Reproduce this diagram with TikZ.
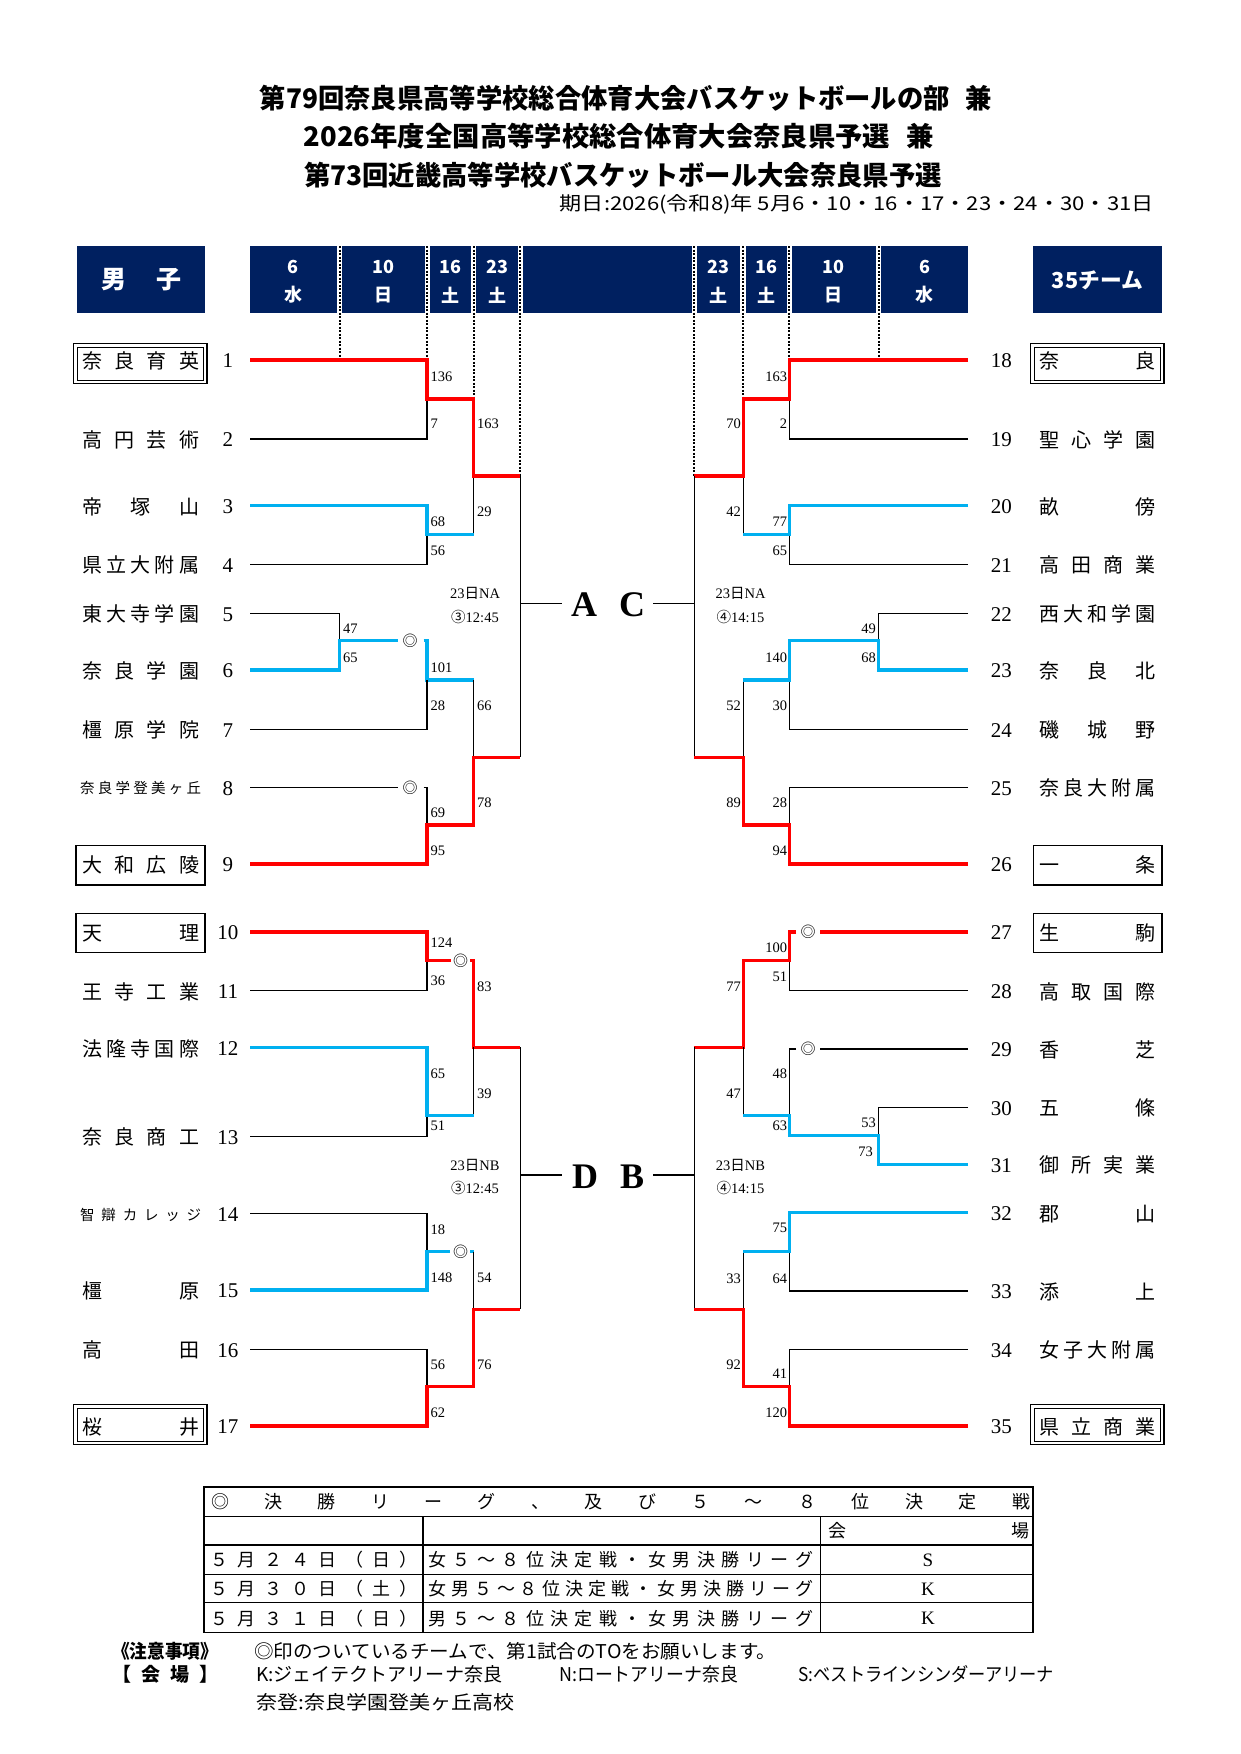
\documentclass[tikz,border=0pt]{standalone}
\usepackage{fontspec}
\newfontfamily\jp{Noto Sans CJK JP}
\newfontfamily\sr{Liberation Serif}
\definecolor{navy}{HTML}{002060}
\definecolor{redc}{HTML}{FF0000}
\definecolor{bluec}{HTML}{00B0F0}
\ExplSyntaxOn
\NewDocumentCommand\spread{mm}{
  \makebox[#1]{
    \tl_set:Nn \l_tmpa_tl {#2}
    \tl_head:N \l_tmpa_tl
    \tl_set:Nx \l_tmpb_tl {\tl_tail:N \l_tmpa_tl}
    \tl_map_inline:Nn \l_tmpb_tl {\hfill ##1}
  }
}
\ExplSyntaxOff
\newcommand\fitw[2]{\resizebox{#1}{\height}{#2}}
\tikzset{
  nm/.style={inner sep=0pt, font=\jp\fontsize{20}{20}\selectfont},
  nms/.style={inner sep=0pt, font=\jp\fontsize{14.5}{14.5}\selectfont},
  num/.style={inner sep=0pt, font=\sr\fontsize{21}{21}\selectfont},
  scl/.style={inner sep=0pt, anchor=west, font=\sr\fontsize{14.5}{14.5}\selectfont},
  scr/.style={inner sep=0pt, anchor=east, font=\sr\fontsize{14.5}{14.5}\selectfont},
  hdt/.style={inner sep=0pt, text=white, font=\jp\bfseries\fontsize{18}{18}\selectfont},
  rd/.style={draw=redc, line width=3.3pt, line join=miter},
  bl/.style={draw=bluec, line width=3.3pt, line join=miter},
  bk/.style={draw=black, line width=1.3pt, line join=miter},
  dotln/.style={draw=black, line width=2pt, dash pattern=on 2pt off 1.5pt},
  dc/.style={inner sep=0pt, font=\jp\fontsize{15}{15}\selectfont},
  info/.style={inner sep=0pt, font=\fontsize{14.5}{14.5}\selectfont, align=center},
  big/.style={inner sep=0pt, font=\sr\bfseries\fontsize{36}{36}\selectfont},
  boxo/.style={draw=black, line width=1.4pt},
  boxi/.style={draw=black, line width=1.0pt},
  tb/.style={draw=black, line width=1.5pt},
  tt/.style={inner sep=0pt, font=\jp\fontsize{18}{18}\selectfont},
}
\newcommand\lteam[3]{%
  \node[nm] (ln#2) at (140.7,#1+1) {\spread{117pt}{#3}};
  \node[num] (lk#2) at (227.9,#1+1) {#2};}
\newcommand\lteams[3]{%
  \node[nms] (ln#2) at (140.7,#1+1) {\spread{121pt}{#3}};
  \node[num] (lk#2) at (227.9,#1+1) {#2};}
\newcommand\rteam[3]{%
  \node[nm] (rn#2) at (1097.6,#1+1) {\spread{116pt}{#3}};
  \node[num] (rk#2) at (1001.4,#1+1) {#2};}
\begin{document}
\begin{tikzpicture}[x=1pt,y=-1pt]
\useasboundingbox (0,0) rectangle (1241,1754);
\fill[white] (0,0) rectangle (1241,1754);
% ---------- title ----------
\node[inner sep=0pt, font=\jp\bfseries\fontsize{27}{27}\selectfont] (t1) at (626,98.5) {\fitw{732pt}{第79回奈良県高等学校総合体育大会バスケットボールの部\hspace{0.6em}兼}};
\node[inner sep=0pt, font=\jp\bfseries\fontsize{27}{27}\selectfont] (t2) at (619,136.5) {\fitw{630pt}{2026年度全国高等学校総合体育大会奈良県予選\hspace{0.6em}兼}};
\node[inner sep=0pt, font=\jp\bfseries\fontsize{27}{27}\selectfont] (t3) at (623,175.7) {\fitw{638pt}{第73回近畿高等学校バスケットボール大会奈良県予選}};
\node[inner sep=0pt, anchor=east, font=\jp\fontsize{19}{19}\selectfont] (t4) at (1154,204.8) {\fitw{594pt}{期日:2026(令和8)年 5月6・10・16・17・23・24・30・31日}};
% ---------- header ----------
\fill[navy] (77.1,246) rectangle (205.4,313.3);
\fill[navy] (1032.5,246) rectangle (1162.1,313.3);
\fill[navy] (250,246) rectangle (337,313.3);
\fill[navy] (342.2,246) rectangle (424.5,313.3);
\fill[navy] (429.7,246) rectangle (471,313.3);
\fill[navy] (476.2,246) rectangle (517.7,313.3);
\fill[navy] (523,246) rectangle (691.6,313.3);
\fill[navy] (697,246) rectangle (740.4,313.3);
\fill[navy] (746,246) rectangle (786.6,313.3);
\fill[navy] (791.8,246) rectangle (875.9,313.3);
\fill[navy] (881.2,246) rectangle (968.2,313.3);
\node[hdt, font=\jp\bfseries\fontsize{25}{25}\selectfont] (hm) at (141.3,280) {\spread{80pt}{男子}};
\node[hdt, font=\jp\bfseries\fontsize{22}{22}\selectfont] (hr) at (1097.3,280) {\fitw{91pt}{35チーム}};
\node[hdt] (h1a) at (293.4,266.7) {6};   \node[hdt] (h1b) at (293.4,295) {水};
\node[hdt] (h2a) at (383.3,266.7) {10};  \node[hdt] (h2b) at (383.3,295) {日};
\node[hdt] (h3a) at (450.4,266.7) {16};  \node[hdt] (h3b) at (450.4,295) {土};
\node[hdt] (h4a) at (497,266.7) {23};    \node[hdt] (h4b) at (497,295) {土};
\node[hdt] (h5a) at (718.7,266.7) {23};  \node[hdt] (h5b) at (718.7,295) {土};
\node[hdt] (h6a) at (766.3,266.7) {16};  \node[hdt] (h6b) at (766.3,295) {土};
\node[hdt] (h7a) at (833.8,266.7) {10};  \node[hdt] (h7b) at (833.8,295) {日};
\node[hdt] (h8a) at (924.7,266.7) {6};   \node[hdt] (h8b) at (924.7,295) {水};
% dotted guide lines
\draw[dotln] (339.6,246) -- (339.6,360);
\draw[dotln] (427.1,246) -- (427.1,360);
\draw[dotln] (473.6,246) -- (473.6,399);
\draw[dotln] (520.4,246) -- (520.4,476);
\draw[dotln] (878.6,246) -- (878.6,360);
\draw[dotln] (789.3,246) -- (789.3,360);
\draw[dotln] (743.2,246) -- (743.2,399);
\draw[dotln] (694.3,246) -- (694.3,476);
% ---------- left teams ----------
\lteam{360}{1}{奈良育英}
\lteam{439}{2}{高円芸術}
\lteam{505.7}{3}{帝塚山}
\lteam{564.3}{4}{県立大附属}
\lteam{613.3}{5}{東大寺学園}
\lteam{670}{6}{奈良学園}
\lteam{729.3}{7}{橿原学院}
\lteams{787.3}{8}{奈良学登美ヶ丘}
\lteam{864}{9}{大和広陵}
\lteam{932}{10}{天理}
\lteam{990.7}{11}{王寺工業}
\lteam{1047.7}{12}{法隆寺国際}
\lteam{1136.3}{13}{奈良商工}
\lteams{1213.7}{14}{智辯カレッジ}
\lteam{1290}{15}{橿原}
\lteam{1349.3}{16}{高田}
\lteam{1426}{17}{桜井}
% boxes left
\draw[boxo] (73.6,343.5) rectangle (207.1,383.5);
\draw[boxi] (77.3,347) rectangle (203.4,380);
\draw[boxo] (76.1,845.5) rectangle (205,885);
\draw[boxo] (76.1,913.3) rectangle (205,952.7);
\draw[boxo] (73.6,1404.5) rectangle (207.1,1444.5);
\draw[boxi] (77.3,1408) rectangle (203.4,1441);
% ---------- right teams ----------
\rteam{360}{18}{奈良}
\rteam{439}{19}{聖心学園}
\rteam{505.7}{20}{畝傍}
\rteam{564.3}{21}{高田商業}
\rteam{613.3}{22}{西大和学園}
\rteam{670}{23}{奈良北}
\rteam{729.3}{24}{磯城野}
\rteam{787.3}{25}{奈良大附属}
\rteam{864}{26}{一条}
\rteam{932}{27}{生駒}
\rteam{990.7}{28}{高取国際}
\rteam{1049}{29}{香芝}
\rteam{1107.3}{30}{五條}
\rteam{1164.3}{31}{御所実業}
\rteam{1212.7}{32}{郡山}
\rteam{1291}{33}{添上}
\rteam{1349.3}{34}{女子大附属}
\rteam{1426}{35}{県立商業}
\draw[boxo] (1030.7,343.5) rectangle (1163.9,383.5);
\draw[boxi] (1034.2,347) rectangle (1160.4,380);
\draw[boxo] (1033.2,845.5) rectangle (1162.1,885);
\draw[boxo] (1033.2,913.3) rectangle (1162.1,952.7);
\draw[boxo] (1030.7,1404.5) rectangle (1163.9,1444.5);
\draw[boxi] (1034.2,1408) rectangle (1160.4,1441);
% ---------- left bracket A ----------
\draw[bk] (250,439) -| (427.1,399);
\draw[bk] (250,564.3) -| (427.1,534.7);
\draw[bk] (473.6,476) -- (473.6,534.7);
\draw[rd] (250,360) -| (427.1,399) -| (473.6,476) -- (520.4,476);
\draw[bl] (250,505.7) -| (427.1,534.7) -- (473.6,534.7);
\draw[bk] (520.4,476) -- (520.4,757.3);
\draw[bk] (520.4,603.3) -- (561.8,603.3);
\draw[bk] (250,613.3) -| (339.6,640.7);
\draw[bl] (250,670) -| (339.6,640.7) -- (397.5,640.7);
\node[dc] (d1) at (410,640.7) {◎};
\draw[bl] (423.6,640.7) -| (427.1,680) -- (473.6,680);
\draw[bk] (250,729.3) -| (427.1,680);
\draw[bk] (473.6,680) -- (473.6,757.3);
\draw[bk] (250,787.3) -- (397.5,787.3);
\node[dc] (d2) at (410,787.3) {◎};
\draw[bk] (423.6,787.3) -| (427.1,825);
\draw[rd] (250,864) -| (427.1,825) -| (473.6,757.3) -- (520.4,757.3);
% ---------- left bracket D ----------
\draw[bk] (250,990.7) -| (427.1,960.7);
\draw[rd] (250,932) -| (427.1,960.7) -- (451,960.7);
\node[dc] (d3) at (460.7,960.7) {◎};
\draw[rd] (470,960.7) -| (473.6,1047.3) -- (520.4,1047.3);
\draw[bk] (250,1136.3) -| (427.1,1115.7);
\draw[bk] (473.6,1047.3) -- (473.6,1115.7);
\draw[bl] (250,1047.7) -| (427.1,1115.7) -- (473.6,1115.7);
\draw[bk] (520.4,1047.3) -- (520.4,1309.3);
\draw[bk] (520.4,1175) -- (561.8,1175);
\draw[bk] (250,1213.7) -| (427.1,1251.7);
\draw[bl] (250,1290) -| (427.1,1251.7) -- (450.4,1251.7);
\node[dc] (d4) at (460.7,1251.7) {◎};
\draw[bl] (470,1251.7) -- (473.6,1251.7);
\draw[bk] (473.6,1251.7) -- (473.6,1309.3);
\draw[bk] (250,1349.3) -| (427.1,1386.7);
\draw[rd] (250,1426) -| (427.1,1386.7) -| (473.6,1309.3) -- (520.4,1309.3);
% ---------- right bracket C ----------
\draw[bk] (968.2,439) -| (789.3,399);
\draw[bk] (968.2,564.3) -| (789.3,534.7);
\draw[bk] (743.2,476) -- (743.2,534.7);
\draw[rd] (968.2,360) -| (789.3,399) -| (743.2,476) -- (694.3,476);
\draw[bl] (968.2,505.7) -| (789.3,534.7) -- (743.2,534.7);
\draw[bk] (694.3,476) -- (694.3,757.3);
\draw[bk] (694.3,603.3) -- (652.9,603.3);
\draw[bk] (968.2,613.3) -| (878.6,640.7);
\draw[bk] (968.2,729.3) -| (789.3,680);
\draw[bk] (743.2,680) -- (743.2,757.3);
\draw[bl] (968.2,670) -| (878.6,640.7) -| (789.3,680) -- (743.2,680);
\draw[bk] (968.2,787.3) -| (789.3,825);
\draw[rd] (968.2,864) -| (789.3,825) -| (743.2,757.3) -- (694.3,757.3);
% ---------- right bracket B ----------
\draw[bk] (968.2,990.7) -| (789.3,960.7);
\draw[rd] (968.2,932) -- (820,932);
\node[dc] (d5) at (808.2,932) {◎};
\draw[rd] (796,932) -| (789.3,960.7) -| (743.2,1047.3) -- (694.3,1047.3);
\draw[bk] (968.2,1049) -- (820,1049);
\node[dc] (d6) at (808.2,1049) {◎};
\draw[bk] (796,1049) -| (789.3,1115.7);
\draw[bk] (968.2,1107.3) -| (878.6,1135.7);
\draw[bk] (743.2,1047.3) -- (743.2,1115.7);
\draw[bl] (968.2,1164.3) -| (878.6,1135.7) -| (789.3,1115.7) -- (743.2,1115.7);
\draw[bk] (694.3,1047.3) -- (694.3,1309.3);
\draw[bk] (694.3,1175) -- (652.9,1175);
\draw[bk] (968.2,1291) -| (789.3,1251.7);
\draw[bk] (743.2,1251.7) -- (743.2,1309.3);
\draw[bl] (968.2,1212.7) -| (789.3,1251.7) -- (743.2,1251.7);
\draw[bk] (968.2,1349.3) -| (789.3,1386.7);
\draw[rd] (968.2,1426) -| (789.3,1386.7) -| (743.2,1309.3) -- (694.3,1309.3);
% ---------- centre labels ----------
\node[big] (lA) at (584,605) {A};
\node[big] (lC) at (632,605) {C};
\node[big] (lD) at (585,1176.7) {D};
\node[big] (lB) at (632,1176.7) {B};
\node[info] (iA1) at (475,593.3) {{\sr 23}{\jp 日}{\sr NA}};
\node[info] (iA2) at (475,616.7) {{\jp ③}{\sr 12:45}};
\node[info] (iC1) at (740.5,593.3) {{\sr 23}{\jp 日}{\sr NA}};
\node[info] (iC2) at (740.5,616.7) {{\jp ④}{\sr 14:15}};
\node[info] (iD1) at (475,1165) {{\sr 23}{\jp 日}{\sr NB}};
\node[info] (iD2) at (475,1187.7) {{\jp ③}{\sr 12:45}};
\node[info] (iB1) at (740.5,1165) {{\sr 23}{\jp 日}{\sr NB}};
\node[info] (iB2) at (740.5,1187.7) {{\jp ④}{\sr 14:15}};
% ---------- scores left ----------
\node[scl] at (430.5,376.7) {136};
\node[scl] at (430.5,424) {7};
\node[scl] at (430.5,521.7) {68};
\node[scl] at (430.5,550.7) {56};
\node[scl] at (430.5,667.3) {101};
\node[scl] at (430.5,706) {28};
\node[scl] at (430.5,812.7) {69};
\node[scl] at (430.5,850.7) {95};
\node[scl] at (430.5,942.3) {124};
\node[scl] at (430.5,980.7) {36};
\node[scl] at (430.5,1074) {65};
\node[scl] at (430.5,1126) {51};
\node[scl] at (430.5,1229.3) {18};
\node[scl] at (430.5,1277.7) {148};
\node[scl] at (430.5,1365) {56};
\node[scl] at (430.5,1412.7) {62};
\node[scl] at (343,628.3) {47};
\node[scl] at (343,657.7) {65};
\node[scl] at (477,424) {163};
\node[scl] at (477,511.7) {29};
\node[scl] at (477,706) {66};
\node[scl] at (477,802.7) {78};
\node[scl] at (477,986.7) {83};
\node[scl] at (477,1093.3) {39};
\node[scl] at (477,1277.7) {54};
\node[scl] at (477,1365) {76};
% ---------- scores right ----------
\node[scr] at (787.3,376.7) {163};
\node[scr] at (787.3,424) {2};
\node[scr] at (787.3,521.7) {77};
\node[scr] at (787.3,550.7) {65};
\node[scr] at (787.3,657.7) {140};
\node[scr] at (787.3,706) {30};
\node[scr] at (787.3,802.7) {28};
\node[scr] at (787.3,850.7) {94};
\node[scr] at (787.3,947.7) {100};
\node[scr] at (787.3,976.7) {51};
\node[scr] at (787.3,1074) {48};
\node[scr] at (787.3,1126) {63};
\node[scr] at (787.3,1228.3) {75};
\node[scr] at (787.3,1278.3) {64};
\node[scr] at (787.3,1374) {41};
\node[scr] at (787.3,1412.7) {120};
\node[scr] at (876,629) {49};
\node[scr] at (876,657.7) {68};
\node[scr] at (876,1122.3) {53};
\node[scr] at (873,1151.7) {73};
\node[scr] at (741,424) {70};
\node[scr] at (741,511.7) {42};
\node[scr] at (741,706) {52};
\node[scr] at (741,802.7) {89};
\node[scr] at (741,986.7) {77};
\node[scr] at (741,1093.3) {47};
\node[scr] at (741,1278.3) {33};
\node[scr] at (741,1365) {92};
% ---------- table ----------
\draw[tb] (204,1487) rectangle (1033,1632.3);
\draw[tb] (204,1516.7) -- (1033,1516.7);
\draw[tb] (204,1545) -- (1033,1545);
\draw[tb] (204,1574.3) -- (1033,1574.3);
\draw[tb] (204,1602.7) -- (1033,1602.7);
\draw[tb] (423,1516.7) -- (423,1632.3);
\draw[tb] (820.7,1516.7) -- (820.7,1632.3);
\node[tt] (r1) at (620.5,1501.7) {\spread{819pt}{◎決勝リーグ、及び５～８位決定戦}};
\node[tt] (r2) at (929,1531) {\spread{201pt}{会場}};
\node[tt] (r3a) at (314,1560) {\spread{208pt}{５月２４日（日）}};
\node[tt] (r3b) at (620.7,1560) {\spread{385pt}{女５～８位決定戦・女男決勝リーグ}};
\node[tt, font=\sr\fontsize{19}{19}\selectfont] (r3c) at (928,1560) {S};
\node[tt] (r4a) at (314,1589) {\spread{208pt}{５月３０日（土）}};
\node[tt] (r4b) at (620.7,1589) {\spread{385pt}{女男５～８位決定戦・女男決勝リーグ}};
\node[tt, font=\sr\fontsize{19}{19}\selectfont] (r4c) at (928,1589) {K};
\node[tt] (r5a) at (314,1618.3) {\spread{208pt}{５月３１日（日）}};
\node[tt] (r5b) at (620.7,1618.3) {\spread{385pt}{男５～８位決定戦・女男決勝リーグ}};
\node[tt, font=\sr\fontsize{19}{19}\selectfont] (r5c) at (928,1618.3) {K};
% ---------- notes ----------
\node[inner sep=0pt, anchor=west, font=\jp\bfseries\fontsize{19}{19}\selectfont] (n1) at (112,1651.7) {\fitw{106pt}{《注意事項》}};
\node[inner sep=0pt, anchor=west, font=\jp\fontsize{19}{19}\selectfont] (n2) at (254,1651.7) {\fitw{522pt}{◎印のついているチームで、第1試合のTOをお願いします。}};
\node[inner sep=0pt, anchor=west, font=\jp\bfseries\fontsize{19}{19}\selectfont] (n3) at (112,1674) {\spread{106pt}{【会場】}};
\node[inner sep=0pt, anchor=west, font=\jp\fontsize{19}{19}\selectfont] (n4) at (256,1674) {\fitw{246pt}{K:ジェイテクトアリーナ奈良}};
\node[inner sep=0pt, anchor=west, font=\jp\fontsize{19}{19}\selectfont] (n5) at (559,1674) {\fitw{179pt}{N:ロートアリーナ奈良}};
\node[inner sep=0pt, anchor=west, font=\jp\fontsize{19}{19}\selectfont] (n6) at (798,1674) {\fitw{256pt}{S:ベストラインシンダーアリーナ}};
\node[inner sep=0pt, anchor=west, font=\jp\fontsize{19}{19}\selectfont] (n7) at (256,1702) {\fitw{258pt}{奈登:奈良学園登美ヶ丘高校}};
\end{tikzpicture}
\end{document}
